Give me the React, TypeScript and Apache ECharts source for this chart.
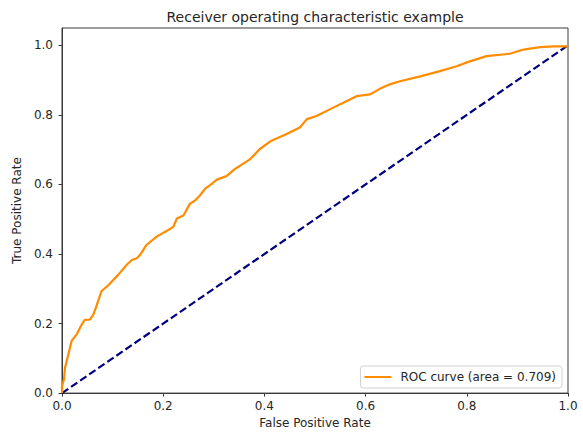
import React, { useEffect, useRef } from "react";
import * as echarts from "echarts";

const fpr = [
  0, 0.0, 0.004, 0.006, 0.0125, 0.019, 0.029, 0.039, 0.045, 0.055, 0.062, 0.068, 0.078, 0.092,
  0.111, 0.128, 0.138, 0.148, 0.154, 0.167, 0.187, 0.21, 0.22, 0.227, 0.24, 0.253, 0.263, 0.273,
  0.283, 0.296, 0.306, 0.325, 0.342, 0.352, 0.372, 0.391, 0.414, 0.444, 0.47, 0.484, 0.503,
  0.536, 0.556, 0.582, 0.609, 0.628, 0.648, 0.668, 0.708, 0.747, 0.78, 0.806, 0.839, 0.885,
  0.912, 0.945, 0.971, 0.998, 1.0,
];
const tpr = [
  0, 0.02, 0.04, 0.073, 0.111, 0.15, 0.169, 0.197, 0.211, 0.211, 0.226, 0.25, 0.293, 0.311,
  0.34, 0.369, 0.383, 0.388, 0.397, 0.426, 0.45, 0.469, 0.478, 0.502, 0.511, 0.545, 0.554, 0.569,
  0.588, 0.602, 0.614, 0.624, 0.645, 0.654, 0.673, 0.702, 0.726, 0.745, 0.764, 0.788, 0.797,
  0.821, 0.835, 0.854, 0.859, 0.875, 0.888, 0.897, 0.911, 0.926, 0.94, 0.954, 0.969, 0.976,
  0.988, 0.995, 0.997, 0.997, 1.0,
];
const diagX = [0, 1];
const diagY = [0, 1];
const tickValues = [0, 0.2, 0.4, 0.6, 0.8, 1.0];
const rocName = "ROC curve (area = 0.709)";
const titleText = "Receiver operating characteristic example";
const xName = "False Positive Rate";
const yName = "True Positive Rate";

const FONT = "DejaVu Sans";
const TEXT = "#262626";
const AXIS = "#3a3a3a";

export default function App() {
  const ref = useRef<HTMLDivElement>(null);
  useEffect(() => {
    if (!ref.current) return;
    const chart = echarts.init(ref.current, undefined, { renderer: "svg" });
    const axisCommon = {
      type: "value" as const,
      min: 0,
      splitLine: { show: false },
      axisLine: { show: true, lineStyle: { color: AXIS, width: 1 } },
      axisTick: {
        show: true,
        inside: false,
        length: 3.5,
        lineStyle: { color: AXIS, width: 1 },
        customValues: tickValues,
      },
      nameLocation: "middle" as const,
      nameTextStyle: { fontFamily: FONT, fontSize: 12, color: TEXT },
    };
    chart.setOption({
      animation: false,
      backgroundColor: "#ffffff",
      graphic: [
        {
          type: "text",
          x: 315,
          y: 10,
          style: {
            text: titleText,
            font: `14px '${FONT}'`,
            fill: TEXT,
            align: "center",
            verticalAlign: "top",
          },
        },
      ],
      grid: {
        left: 62,
        right: 15,
        top: 28,
        bottom: 39,
        show: true,
        borderColor: AXIS,
        borderWidth: 1,
        backgroundColor: "transparent",
      },
      legend: {
        data: [{ name: rocName, icon: "rect" }],
        right: 21,
        bottom: 46,
        orient: "vertical",
        itemWidth: 27,
        itemHeight: 2,
        padding: [5, 6, 5, 4],
        backgroundColor: "rgba(255,255,255,0.8)",
        borderColor: "#d0d0d0",
        borderWidth: 1,
        borderRadius: 3,
        textStyle: { fontFamily: FONT, fontSize: 12, color: TEXT, padding: [0, 0, 0, 4] },
      },
      xAxis: {
        ...axisCommon,
        max: 1,
        name: xName,
        nameGap: 21,
        axisLabel: {
          fontFamily: FONT,
          fontSize: 12,
          color: TEXT,
          margin: 7,
          customValues: tickValues,
          formatter: (v: number) => v.toFixed(1),
        },
      },
      yAxis: {
        ...axisCommon,
        max: 1.05,
        name: yName,
        nameGap: 33,
        axisLabel: {
          fontFamily: FONT,
          fontSize: 12,
          color: TEXT,
          margin: 9,
          customValues: tickValues,
          formatter: (v: number) => v.toFixed(1),
        },
      },
      series: [
        {
          name: rocName,
          type: "line",
          data: fpr.map((x, i) => [x, tpr[i]]),
          showSymbol: false,
          symbol: "none",
          lineStyle: { color: "#ff8c00", width: 2.2 },
          itemStyle: { color: "#ff8c00" },
          z: 3,
        },
        {
          name: "chance",
          type: "line",
          data: diagX.map((x, i) => [x, diagY[i]]),
          showSymbol: false,
          symbol: "none",
          lineStyle: { color: "#000080", width: 2.2, type: [7.6, 3.4] },
          itemStyle: { color: "#000080" },
          z: 2,
        },
      ],
    });
    return () => chart.dispose();
  }, []);
  return (
    <div
      ref={ref}
      style={{ position: "fixed", left: 0, top: 0, width: 583, height: 434 }}
    />
  );
}
